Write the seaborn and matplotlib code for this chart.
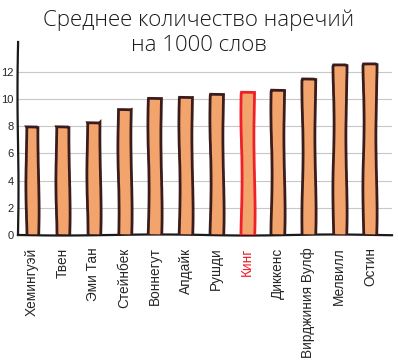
import matplotlib
matplotlib.use('Agg')
import matplotlib.pyplot as plt
import seaborn as sns

# Authors and average adverbs per 1000 words
authors = ['Хемингуэй', 'Твен', 'Эми Тан', 'Стейнбек', 'Воннегут', 'Апдайк',
           'Рушди', 'Кинг', 'Диккенс', 'Вирджиния Вулф', 'Мелвилл', 'Остин']
adverbs = [8.0, 8.05, 8.3, 9.25, 10.05, 10.15, 10.4, 10.5, 10.7, 11.45, 12.5, 12.6]
highlight = 'Кинг'
yticks = [0, 2, 4, 6, 8, 10, 12]

sns.set_style('white')
plt.rcParams['font.family'] = ['Liberation Sans', 'DejaVu Sans']

fig = plt.figure(figsize=(3.98, 3.62), dpi=100)
ax = fig.add_axes([0.045, 0.351, 0.94, 0.533])

sns.barplot(x=authors, y=adverbs, color='#f3a46c', width=0.42,
            edgecolor='#3b1c1c', linewidth=2, saturation=1, ax=ax, zorder=3)

for bar, name in zip(ax.patches, authors):
    bar.set_sketch_params(0.6, 180, 3)
    if name == highlight:
        bar.set_edgecolor('#f0202a')

ax.set_xlim(-0.46, 11.72)
ax.set_ylim(0, 14.2)
ax.set_yticks(yticks)
ax.set_yticklabels([str(t) for t in yticks], fontsize=8)
ax.yaxis.grid(True, color='#c8c8c8', linewidth=0.8, zorder=0)
ax.tick_params(axis='y', length=0, pad=3)
ax.tick_params(axis='x', length=0, pad=9)
ax.set_xticks(range(len(authors)))
ax.set_xticklabels(authors, rotation=90, fontsize=9.8, va='top')
for lbl in ax.get_xticklabels():
    if lbl.get_text() == highlight:
        lbl.set_color('#f0202a')
ax.set_xlabel('')
ax.set_ylabel('')

for side in ['top', 'right']:
    ax.spines[side].set_visible(False)
for side in ['left', 'bottom']:
    ax.spines[side].set_color('#1a1a1a')
    ax.spines[side].set_linewidth(1.6)
    ax.spines[side].set_sketch_params(0.5, 200, 2)

fig.suptitle('Среднее количество наречий\nна 1000 слов', fontsize=16,
             y=0.975, fontfamily=['Open Sans', 'DejaVu Sans'], fontweight='light',
             color='#1a1a1a', linespacing=1.3)

fig.savefig('out.png', dpi=100)
